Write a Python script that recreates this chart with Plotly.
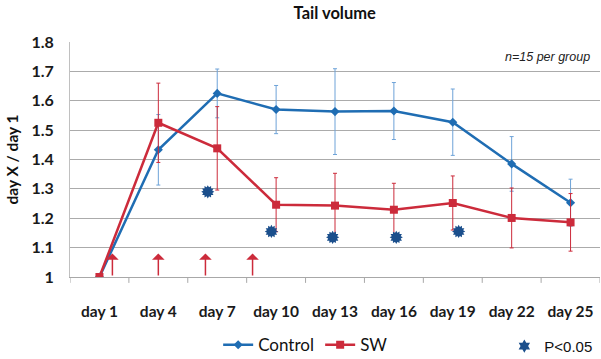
import plotly.graph_objects as go

days = ["day 1", "day 4", "day 7", "day 10", "day 13", "day 16", "day 19", "day 22", "day 25"]
control = [1.0, 1.433, 1.625, 1.570, 1.563, 1.565, 1.527, 1.385, 1.253]
control_err = [0.0, 0.12, 0.083, 0.082, 0.146, 0.097, 0.113, 0.093, 0.08]
sw = [1.0, 1.525, 1.438, 1.246, 1.243, 1.229, 1.252, 1.201, 1.186]
sw_err = [0.0, 0.135, 0.142, 0.092, 0.11, 0.09, 0.092, 0.102, 0.098]
sig_x = [1.84, 2.92, 3.96, 5.04, 6.1]
sig_y = [1.29, 1.155, 1.135, 1.135, 1.155]
arrow_x = [0.22, 1.0, 1.8, 2.6]
arrow_top = 1.08

BLUE = "#1f6db3"
RED = "#cc2b3b"
NAVY = "#1b4f8c"
FONT = "Lato"

fig = go.Figure()
idx = list(range(len(days)))

fig.add_trace(go.Scatter(
    x=idx, y=control, name="Control", mode="lines+markers",
    line=dict(color=BLUE, width=2.5),
    marker=dict(symbol="diamond", size=7, color=BLUE),
    error_y=dict(type="data", array=control_err, color="#6ea3d8", thickness=1, width=2),
    legend="legend",
))
fig.add_trace(go.Scatter(
    x=idx, y=sw, name="SW", mode="lines+markers",
    line=dict(color=RED, width=2.5),
    marker=dict(symbol="square", size=8, color=RED),
    error_y=dict(type="data", array=sw_err, color=RED, thickness=1, width=2),
    legend="legend",
))
fig.add_trace(go.Scatter(
    x=sig_x, y=sig_y, name="P<0.05", mode="markers",
    marker=dict(symbol="hexagram", size=10, color=NAVY),
    legend="legend2",
))
fig.add_trace(go.Scatter(
    x=sig_x, y=sig_y, mode="markers", showlegend=False, hoverinfo="skip",
    marker=dict(symbol="hexagram", size=10, color=NAVY, angle=30),
))

for ax in arrow_x:
    fig.add_annotation(
        x=ax, y=arrow_top, ax=ax, ay=1.0, xref="x", yref="y", axref="x", ayref="y",
        showarrow=True, arrowhead=1, arrowsize=1.4, arrowwidth=1.5, arrowcolor=RED, text="",
    )

fig.add_annotation(
    text="<i>n=15 per group</i>", x=0.985, y=1.75, xref="paper", yref="y",
    xanchor="right", yanchor="middle", showarrow=False,
    font=dict(family="Liberation Sans", size=12.5, color="#222"),
)

fig.update_layout(
    width=601, height=359,
    margin=dict(l=70, r=1, t=42, b=82, autoexpand=False),
    plot_bgcolor="white", paper_bgcolor="white",
    font=dict(family=FONT, color="#1a1a1a"),
    title=dict(text="<b>Tail volume</b>", x=0.557, xanchor="center", y=0.963, yanchor="middle",
               font=dict(family=FONT, size=16.5, color="#111")),
    xaxis=dict(
        range=[-0.5, 8.5], tickmode="array", tickvals=idx, ticktext=[f"<b>{d}</b>" for d in days],
        showgrid=False, zeroline=False,
        showline=True, linecolor="#a8a8a8", linewidth=1,
        tickfont=dict(family=FONT, size=15.5, color="#1a1a1a"),
        ticks="", ticklabelstandoff=20,
    ),
    yaxis=dict(
        range=[1.0, 1.8], tickmode="array",
        tickvals=[1.0, 1.1, 1.2, 1.3, 1.4, 1.5, 1.6, 1.7, 1.8],
        ticktext=["<b>1</b>", "<b>1.1</b>", "<b>1.2</b>", "<b>1.3</b>", "<b>1.4</b>",
                  "<b>1.5</b>", "<b>1.6</b>", "<b>1.7</b>", "<b>1.8</b>"],
        showgrid=True, gridcolor="#ababab", gridwidth=1,
        zeroline=False, showline=True, linecolor="#c0c0c0", linewidth=1,
        tickfont=dict(family=FONT, size=16, color="#1a1a1a"),
        ticklabelstandoff=12,
        title=dict(text="<b>day X / day 1</b>", font=dict(family=FONT, size=15.5, color="#111"), standoff=8),
    ),
    legend=dict(orientation="h", x=0.472, xanchor="center", y=-0.29, yanchor="middle",
                font=dict(family=FONT, size=17, color="#111"), itemwidth=30, tracegroupgap=0,
                entrywidth=57, entrywidthmode="pixels",
                bgcolor="rgba(0,0,0,0)"),
    legend2=dict(orientation="h", x=0.995, xanchor="right", y=-0.295, yanchor="middle",
                 font=dict(family="Liberation Sans", size=15, color="#111"), itemwidth=30,
                 bgcolor="rgba(0,0,0,0)"),
    showlegend=True,
)

# tick marks at category boundaries
for b in [i + 0.5 for i in range(-1, 9)]:
    fig.add_shape(type="line", x0=b, x1=b, y0=0, y1=-0.025, xref="x", yref="paper",
                  line=dict(color="#a8a8a8", width=1))

fig.write_html("out.html")
